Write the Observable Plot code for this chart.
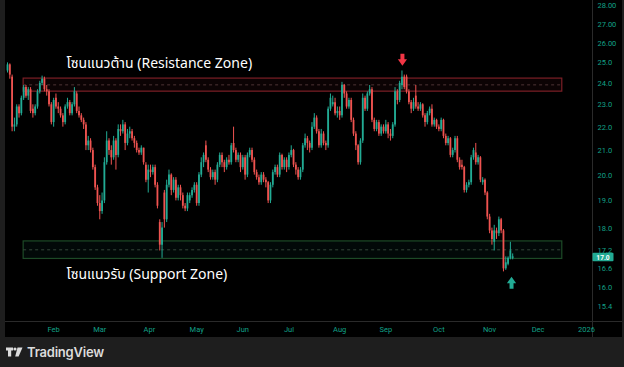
<!DOCTYPE html>
<html><head><meta charset="utf-8">
<script src="https://cdn.jsdelivr.net/npm/d3@7"></script>
<script src="https://cdn.jsdelivr.net/npm/@observablehq/plot@0.6"></script>
<style>
html,body{margin:0;padding:0;background:#1e1e1e;width:624px;height:367px;overflow:hidden;}
#chart{position:absolute;left:5px;top:0;width:617px;height:337px;background:#000;}
#footer{position:absolute;left:6px;top:343px;height:18px;display:flex;align-items:center;gap:4px;color:#dcdcdc;font-family:Inter,Roboto,sans-serif;font-weight:600;font-size:13px;letter-spacing:-0.2px;}
</style></head>
<body>
<div id="chart"></div>
<div id="footer"><svg width="17" height="10" viewBox="0 0 17 10"><path d="M0 0.5H7V3.5H5.2V9.5H2V3.5H0Z" fill="#dcdcdc"/><circle cx="9" cy="2" r="1.6" fill="#dcdcdc"/><path d="M11.5 0.5H16.5L12.6 9.5H9.2Z" fill="#dcdcdc"/></svg><span>TradingView</span></div>
<script>
// ---- data (daily OHLC, bar index 0 = first trading day of Jan 2025) ----
const open = [
24.6,24.9,24.3,22.0,22.1,22.9,22.6,23.3,23.8,23.4,
23.7,22.8,22.6,22.9,23.6,24.0,24.2,23.7,23.6,23.0,
22.2,23.3,22.9,22.8,22.5,22.2,22.9,23.1,22.6,23.0,
23.5,22.7,22.5,22.3,22.1,21.2,21.4,21.0,20.3,19.5,
18.9,18.6,19.0,20.5,21.4,21.0,20.7,21.4,20.8,21.9,
21.8,22.1,21.3,21.7,21.8,21.5,21.3,21.0,20.9,21.1,
20.4,19.8,20.2,20.1,20.3,19.6,18.2,17.4,19.3,18.3,
19.6,20.0,19.4,19.8,19.1,19.5,19.2,18.8,18.7,19.0,
19.2,19.4,19.6,18.9,20.0,20.5,21.2,20.6,20.2,19.9,
20.1,19.8,20.4,20.8,20.5,20.3,20.6,20.5,21.3,21.0,
20.6,20.8,20.3,20.7,20.0,20.8,21.0,20.6,20.1,19.9,
19.7,20.0,19.8,19.7,19.0,19.6,20.1,20.3,20.0,20.8,
20.3,20.6,20.3,20.8,21.0,20.4,20.2,19.9,20.2,21.2,
21.5,21.3,21.1,22.0,22.4,21.8,21.2,21.7,21.3,21.2,
22.8,23.0,23.1,22.6,22.7,22.5,23.9,23.5,22.9,23.2,
22.3,21.7,21.2,20.5,21.4,23.3,22.8,23.5,23.7,22.3,
21.9,22.2,21.7,22.0,21.8,22.1,21.7,21.6,22.1,23.6,
23.2,23.9,24.3,24.3,23.6,23.1,22.8,23.4,22.9,22.8,
23.0,22.5,22.2,22.6,22.8,22.1,22.3,22.0,21.9,22.3,
21.6,21.3,21.5,20.8,21.0,21.5,20.6,20.4,20.3,19.4,
19.6,19.7,20.7,20.9,20.5,20.7,19.7,19.8,19.3,18.4,
17.9,17.5,17.9,17.8,18.3,17.9,16.6,16.75,16.95,16.95];
const high = [
25.0,24.95,24.4,22.4,23.0,23.0,23.4,23.9,23.9,23.8,
23.8,23.0,23.0,23.7,24.1,24.35,24.3,23.9,23.7,23.1,
23.3,23.5,23.1,22.9,22.6,23.0,23.3,23.2,23.1,23.8,
23.6,22.9,22.6,22.4,22.2,21.6,21.5,21.1,20.4,19.6,
19.2,19.3,20.7,21.8,21.5,21.2,21.6,21.5,22.1,22.1,
22.3,22.2,21.9,22.0,21.9,21.6,21.4,21.1,21.2,21.1,
20.5,20.4,20.4,20.4,20.4,19.7,18.3,18.2,19.4,19.8,
20.2,20.05,19.9,19.9,19.6,19.6,19.3,18.9,19.3,19.3,
19.5,19.7,19.7,20.1,20.7,20.9,21.4,20.7,20.3,20.2,
20.2,20.5,20.9,20.9,20.6,20.7,20.8,21.3,22.0,21.1,
20.9,20.9,20.8,20.8,20.9,21.1,21.1,20.7,20.2,20.0,
20.1,20.1,19.9,19.75,19.7,20.2,20.4,20.4,20.9,20.85,
20.7,20.7,20.9,21.2,21.05,20.5,20.3,20.3,21.3,21.7,
21.6,21.4,22.2,22.6,22.5,21.9,21.9,21.8,21.4,22.9,
23.5,23.4,23.3,22.9,22.9,24.05,23.95,23.6,23.3,23.3,
22.4,21.8,21.25,21.5,23.5,23.4,23.6,23.9,23.8,22.4,
22.3,22.3,22.1,22.1,22.3,22.2,21.9,22.2,23.8,23.7,
24.1,24.6,24.4,24.4,23.7,23.2,23.3,23.9,23.1,23.1,
23.05,22.6,22.7,22.9,23.0,22.4,22.35,22.1,22.4,22.35,
21.7,21.6,21.55,21.1,21.6,21.6,20.7,20.6,20.35,19.7,
19.8,20.8,21.1,21.3,20.8,20.75,19.9,19.85,19.35,18.5,
18.0,18.1,18.0,18.4,18.35,17.95,17.0,17.0,17.5,17.1];
const low = [
24.5,24.2,21.8,21.8,22.0,22.4,22.5,23.2,23.3,23.2,
22.6,22.4,22.5,22.8,23.5,23.9,23.6,23.4,22.9,22.1,
22.0,22.8,22.6,22.4,22.0,22.1,22.8,22.5,22.5,22.9,
22.6,22.4,22.2,21.9,21.0,21.0,20.9,20.2,19.4,18.8,
18.3,18.5,18.9,20.4,20.8,20.4,20.6,20.2,20.7,21.6,
21.7,21.0,21.2,21.5,21.4,21.1,20.9,20.8,20.8,20.4,
19.7,19.3,19.9,20.0,19.5,18.7,17.2,16.95,18.0,18.2,
19.5,19.2,19.3,19.0,19.0,19.0,18.7,18.6,18.6,18.9,
19.1,19.3,18.8,18.8,19.9,20.3,20.5,20.1,19.8,19.8,
19.6,19.7,20.3,20.3,20.1,20.2,20.4,20.4,20.9,20.5,
20.5,20.1,20.2,19.8,19.9,20.7,20.5,20.0,19.8,19.6,
19.6,19.7,19.5,18.9,18.9,19.5,20.0,19.9,19.9,20.2,
20.2,20.1,20.2,20.7,20.3,20.0,19.8,19.8,20.1,21.1,
21.0,20.9,21.0,21.9,21.7,21.1,21.1,21.2,21.0,21.1,
22.7,22.9,22.5,22.4,22.3,22.4,23.3,22.8,22.8,22.2,
21.6,21.0,20.4,20.4,21.3,22.7,22.7,23.4,22.2,21.8,
21.8,21.6,21.6,21.7,21.7,21.5,21.4,21.5,22.0,23.0,
23.1,23.7,23.7,23.5,23.0,22.6,22.7,22.8,22.7,22.7,
22.4,22.0,22.1,22.5,22.0,22.0,21.9,21.8,21.8,21.5,
21.2,21.2,20.7,20.7,20.9,20.5,20.2,20.2,19.3,19.3,
19.5,19.6,20.6,20.4,20.4,19.7,19.6,19.2,18.3,17.8,
17.4,17.2,17.6,17.7,17.8,16.5,16.55,16.7,16.9,16.9];
const close = [
24.9,24.4,22.0,22.1,22.9,22.6,23.3,23.8,23.4,23.7,
22.7,22.6,22.9,23.6,24.0,24.2,23.7,23.6,23.0,22.2,
23.2,22.9,22.8,22.5,22.2,22.9,23.1,22.6,23.0,23.6,
22.7,22.5,22.3,22.1,21.2,21.4,21.0,20.3,19.5,18.9,
18.6,19.0,20.5,21.4,21.0,20.7,21.4,20.8,21.9,21.8,
22.1,21.3,21.7,21.8,21.5,21.3,21.0,20.9,21.1,20.5,
19.8,20.2,20.1,20.3,19.6,18.8,17.4,18.0,18.3,19.6,
20.0,19.4,19.8,19.1,19.5,19.2,18.8,18.7,19.2,19.2,
19.4,19.6,18.9,20.0,20.5,20.8,20.6,20.2,19.9,20.1,
19.8,20.4,20.8,20.5,20.3,20.6,20.5,21.2,21.0,20.6,
20.8,20.3,20.7,20.0,20.8,21.0,20.6,20.1,19.9,19.7,
20.0,19.8,19.7,19.0,19.6,20.1,20.3,20.0,20.8,20.3,
20.6,20.3,20.8,21.0,20.4,20.2,19.9,20.2,21.2,21.5,
21.3,21.1,22.0,22.4,21.8,21.2,21.7,21.3,21.2,22.8,
23.3,23.1,22.6,22.7,22.5,23.9,23.5,22.9,23.2,22.3,
21.7,21.2,20.5,21.4,23.3,22.8,23.5,23.7,22.3,21.9,
22.2,21.7,22.0,21.8,22.1,21.7,21.6,22.1,23.6,23.2,
24.0,24.3,23.8,23.6,23.1,22.8,23.1,22.9,22.8,23.0,
22.5,22.2,22.6,22.8,22.1,22.3,22.0,21.9,22.3,21.6,
21.3,21.5,20.8,21.0,21.5,20.6,20.3,20.3,19.4,19.6,
19.7,20.7,21.0,20.5,20.7,19.8,19.8,19.3,18.4,17.9,
17.6,17.9,17.8,18.3,17.9,16.6,16.8,16.95,17.2,17.0];

// time axis: bar index of the first session of each month
const monthTicks  = [20, 40, 61.5, 82, 102, 122, 144, 164, 187, 209, 230, 251];
const monthLabels = ["Feb","Mar","Apr","May","Jun","Jul","Aug","Sep","Oct","Nov","Dec","2026"];
// price axis
const priceTicks  = [28, 27, 26, 25, 24, 23, 22, 21, 20, 19, 18, 17.2, 16.6, 16, 15.4];
const priceLabels = ["28.00","27.00","26.00","25.0","24.0","23.0","22.0","21.0","20.0","19.0","18.0","17.2","16.6","16.0","15.4"];
const lastPrice = 17.0;
const lastLabel = "17.0";

// zones drawn on the chart
const zoneKeys  = ["resistance", "support"];
const zoneLow   = [23.61, 16.93];
const zoneHigh  = [24.23, 17.53];
const zoneMid   = [23.93, 17.24];
const zoneFrom  = 7;      // bar index
const zoneTo    = 240.5;  // bar index (extends into the future)
const zoneText  = ["โซนแนวต้าน (Resistance Zone)", "โซนแนวรับ (Support Zone)"];
const textBar   = [25.6, 25.6];
const textPrice = [24.97, 16.41];

// signal arrows
const arrowKeys  = ["down", "up"];
const arrowBar   = [171.2, 218.5];
const arrowPrice = [25.16, 16.15];

// ---- styles ----
const UP = "#22ab94", DOWN = "#ef5350";
const zoneStroke = {resistance: "#7c1f26", support: "#1d4a27"};
const zoneFill   = {resistance: "#f23645", support: "#22ab94"};
const zoneDash   = {resistance: "#4e3436", support: "#34463a"};
const arrowColor = {down: "#f23645", up: "#22ab94"};
const AXIS = "#12a088";

const bars = close.map((c, i) => ({i, o: open[i], h: high[i], l: low[i], c, col: c >= open[i] ? UP : DOWN}));
const zones = zoneKeys.map((k, j) => ({k, lo: zoneLow[j], hi: zoneHigh[j], mid: zoneMid[j], text: zoneText[j], tb: textBar[j], tp: textPrice[j]}));
const arrows = arrowKeys.map((k, j) => ({k, x: arrowBar[j], y: arrowPrice[j]}));

const arrowDown = {draw(ctx) {
  ctx.moveTo(-2, -6); ctx.lineTo(2, -6); ctx.lineTo(2, -0.5); ctx.lineTo(4.6, -0.5);
  ctx.lineTo(0, 6); ctx.lineTo(-4.6, -0.5); ctx.lineTo(-2, -0.5); ctx.closePath();
}};
const arrowUp = {draw(ctx) {
  ctx.moveTo(-2, 6); ctx.lineTo(2, 6); ctx.lineTo(2, 0.5); ctx.lineTo(4.6, 0.5);
  ctx.lineTo(0, -6); ctx.lineTo(-4.6, 0.5); ctx.lineTo(-2, 0.5); ctx.closePath();
}};

const thaiFont = "Tahoma, 'Noto Sans Thai', 'Noto Sans', 'DejaVu Sans', sans-serif";

const plot = Plot.plot({
  width: 617, height: 337,
  marginTop: 0, marginBottom: 16, marginLeft: 0, marginRight: 30,
  style: {background: "transparent", color: AXIS, fontSize: "7.5px", fontFamily: "Roboto, 'Noto Sans', sans-serif"},
  x: {domain: [-0.87, 253.6], ticks: monthTicks, tickFormat: d => monthLabels[monthTicks.indexOf(d)], tickSize: 0, tickPadding: 5, label: null},
  y: {type: "log", domain: [14.95, 28.3], ticks: priceTicks, tickFormat: d => priceLabels[priceTicks.indexOf(d)], axis: "right", tickSize: 0, tickPadding: 5, label: null},
  marks: [
    Plot.rect(zones, {x1: zoneFrom, x2: zoneTo, y1: "lo", y2: "hi", fill: d => zoneFill[d.k], fillOpacity: 0.05, stroke: d => zoneStroke[d.k], strokeWidth: 1.2}),
    Plot.ruleY(zones, {y: "mid", x1: zoneFrom, x2: zoneTo, stroke: d => zoneDash[d.k], strokeDasharray: "3,3", strokeWidth: 1}),
    Plot.ruleX(bars, {x: "i", y1: "l", y2: "h", stroke: "col", strokeWidth: 1}),
    Plot.ruleX(bars, {x: "i", y1: "o", y2: "c", stroke: "col", strokeWidth: 1.8}),
    Plot.text(zones, {x: "tb", y: "tp", text: "text", fill: "#ffffff", fontSize: 14, textAnchor: "start", lineAnchor: "middle", fontFamily: thaiFont}),
    Plot.dot(arrows.filter(a => a.k === "down"), {x: "x", y: "y", symbol: arrowDown, fill: d => arrowColor[d.k], stroke: "none", r: 5}),
    Plot.dot(arrows.filter(a => a.k === "up"), {x: "x", y: "y", symbol: arrowUp, fill: d => arrowColor[d.k], stroke: "none", r: 5})
  ]
});

// panel separators and the last-price tag, placed with the plot's own scales
const xs = plot.scale("x"), ys = plot.scale("y");
const svg = d3.select(plot);
const W = 617, H = 337;
svg.insert("line", ":first-child").attr("x1", 0).attr("x2", W).attr("y1", ys.range[0] + 0.5).attr("y2", ys.range[0] + 0.5).attr("stroke", "#2a2a2a");
svg.insert("line", ":first-child").attr("x1", xs.range[1] + 0.5).attr("x2", xs.range[1] + 0.5).attr("y1", 0).attr("y2", H).attr("stroke", "#2a2a2a");
const yl = ys.apply(lastPrice);
const tag = svg.append("g");
tag.append("rect").attr("x", xs.range[1] + 0.5).attr("y", yl - 3.6).attr("width", 21).attr("height", 8.4).attr("rx", 1).attr("fill", UP);
tag.append("text").attr("x", xs.range[1] + 11).attr("y", yl + 1).attr("dy", "0.35em").attr("text-anchor", "middle")
  .attr("fill", "#fff").attr("font-size", 6.6).attr("font-weight", 700).attr("font-family", "Roboto, sans-serif").text(lastLabel);

document.getElementById("chart").appendChild(plot);
</script>
</body></html>
